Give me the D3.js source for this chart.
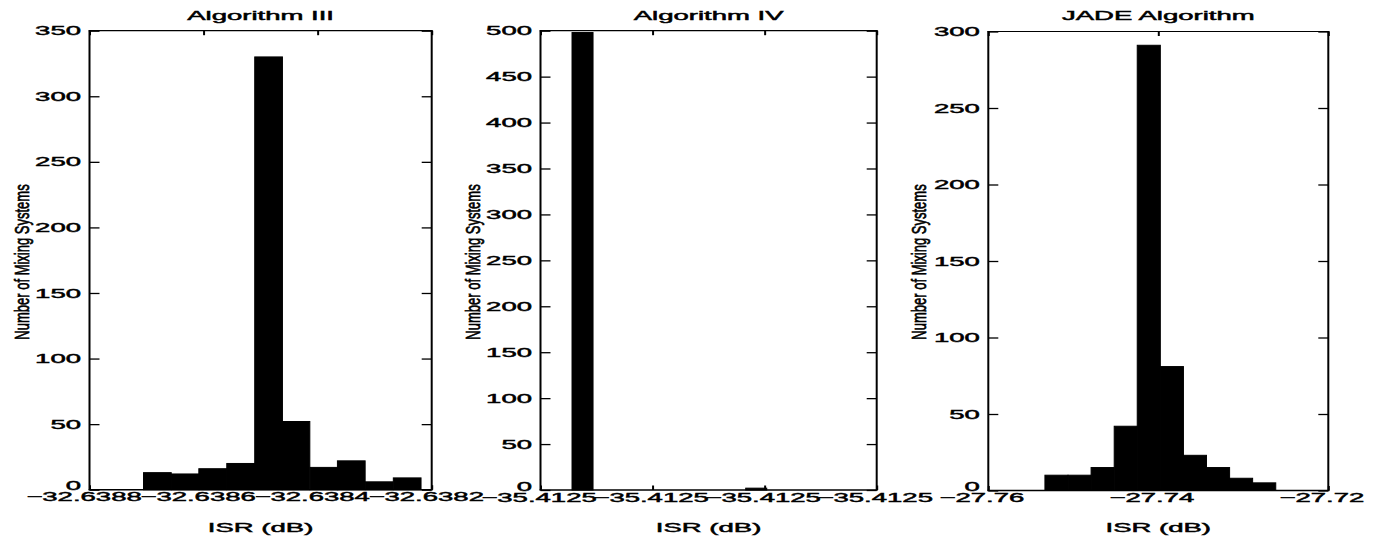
<!DOCTYPE html>
<html>
<head>
<meta charset="utf-8">
<script src="https://cdn.jsdelivr.net/npm/d3@7/dist/d3.min.js"></script>
<style>
  html, body { margin: 0; padding: 0; background: #fff; }
  svg { display: block; }
  text { font-family: "Liberation Sans", Arial, Helvetica, sans-serif; fill: #000; stroke: #000; stroke-width: 0.45px; }
</style>
</head>
<body>
<svg id="chart" width="1380" height="540"></svg>
<script>
// ---------------- Data ----------------
// Algorithm III
const alg3Title = "Algorithm III";
const alg3BinCenters = [-32.638681, -32.638632, -32.638584, -32.638535, -32.638486,
                        -32.638438, -32.638389, -32.638341, -32.638292, -32.638243];
const alg3Counts = [13, 12, 16, 20, 330, 52, 17, 22, 6, 9];
const alg3BinWidth = 0.0000486;
const alg3XTicks = [-32.6388, -32.6386, -32.6384, -32.6382];
const alg3XTickLabels = ["\u221232.6388", "\u221232.6386", "\u221232.6384", "\u221232.6382"];
const alg3YTicks = [0, 50, 100, 150, 200, 250, 300, 350];

// Algorithm IV
const alg4Title = "Algorithm IV";
const alg4BinCenters = [-35.4125325, -35.4125015];
const alg4Counts = [498, 2];
const alg4BinWidth = 0.00000375;
const alg4XTicks = [-35.41254, -35.41252, -35.41250, -35.41248];
const alg4XTickLabels = ["\u221235.4125", "\u221235.4125", "\u221235.4125", "\u221235.4125"];
const alg4YTicks = [0, 50, 100, 150, 200, 250, 300, 350, 400, 450, 500];

// JADE Algorithm
const jadeTitle = "JADE Algorithm";
const jadeBinCenters = [-27.75198, -27.74926, -27.74655, -27.74383, -27.74112,
                        -27.73840, -27.73569, -27.73297, -27.73026, -27.72754];
const jadeCounts = [10, 10, 15, 42, 291, 81, 23, 15, 8, 5];
const jadeBinWidth = 0.002715;
const jadeXTicks = [-27.76, -27.74, -27.72];
const jadeXTickLabels = ["\u221227.76", "\u221227.74", "\u221227.72"];
const jadeYTicks = [0, 50, 100, 150, 200, 250, 300];

const xAxisTitle = "ISR (dB)";
const yAxisTitle = "Number of Mixing Systems";

// ---------------- Layout ----------------
const panels = [
  { title: alg3Title, centers: alg3BinCenters, counts: alg3Counts, binW: alg3BinWidth,
    xTicks: alg3XTicks, xLabels: alg3XTickLabels, yTicks: alg3YTicks,
    left: 89.5, right: 431.7, top: 30.7, bottom: 489.7, yLabelX: 21.7, xLabelDx: -6 },
  { title: alg4Title, centers: alg4BinCenters, counts: alg4Counts, binW: alg4BinWidth,
    xTicks: alg4XTicks, xLabels: alg4XTickLabels, yTicks: alg4YTicks,
    left: 540.5, right: 876.7, top: 30.7, bottom: 490, yLabelX: 472.5, xLabelDx: -2 },
  { title: jadeTitle, centers: jadeBinCenters, counts: jadeCounts, binW: jadeBinWidth,
    xTicks: jadeXTicks, xLabels: jadeXTickLabels, yTicks: jadeYTicks,
    left: 988.3, right: 1328.3, top: 31.5, bottom: 490.5, yLabelX: 919, xLabelDx: -7 }
];

const SX = 2.2;      // horizontal stretch of the scanned lettering
const FS = 12.5;     // font size

const svg = d3.select("#chart");
svg.append("rect").attr("width", 1380).attr("height", 540).attr("fill", "#fff");

panels.forEach(p => {
  const x = d3.scaleLinear()
    .domain([p.xTicks[0], p.xTicks[p.xTicks.length - 1]])
    .range([p.left, p.right]);
  const y = d3.scaleLinear()
    .domain([0, p.yTicks[p.yTicks.length - 1]])
    .range([p.bottom, p.top]);

  const g = svg.append("g");

  // bars
  g.selectAll("rect.bar")
    .data(p.centers.map((c, i) => ({ c, v: p.counts[i] })))
    .join("rect")
    .attr("class", "bar")
    .attr("x", d => x(d.c - p.binW / 2))
    .attr("width", d => x(d.c + p.binW / 2) - x(d.c - p.binW / 2))
    .attr("y", d => y(d.v))
    .attr("height", d => y(0) - y(d.v))
    .attr("fill", "#000")
    .attr("stroke", "#000")
    .attr("stroke-width", 1);

  // axes (ticks pointing inward)
  const yl = g.append("g").attr("transform", `translate(${p.left},0)`)
    .call(d3.axisLeft(y).tickValues(p.yTicks).tickSizeInner(-10).tickSizeOuter(0).tickPadding(0)
      .tickFormat(d3.format("d")));
  const yr = g.append("g").attr("transform", `translate(${p.right},0)`)
    .call(d3.axisRight(y).tickValues(p.yTicks).tickSizeInner(-10).tickSizeOuter(0).tickFormat(""));
  const xt = g.append("g").attr("transform", `translate(0,${p.top})`)
    .call(d3.axisTop(x).tickValues(p.xTicks).tickSizeInner(-4.5).tickSizeOuter(0).tickFormat(""));
  const xb = g.append("g").attr("transform", `translate(0,${p.bottom})`)
    .call(d3.axisBottom(x).tickValues(p.xTicks).tickSizeInner(-4.5).tickSizeOuter(0).tickPadding(0)
      .tickFormat((d, i) => p.xLabels[i]));

  [yl, yr, xt, xb].forEach(a => {
    a.select(".domain").remove();
    a.selectAll(".tick line").attr("stroke", "#000");
    a.attr("font-family", null).attr("font-size", null);
  });
  yl.selectAll(".tick line").attr("stroke-width", 1.3);
  yr.selectAll(".tick line").attr("stroke-width", 1.3);
  xt.selectAll(".tick line").attr("stroke-width", 2);
  xb.selectAll(".tick line").attr("stroke-width", 2);

  yl.selectAll(".tick text")
    .attr("x", 0).attr("dy", null)
    .attr("font-size", FS)
    .attr("text-anchor", "end")
    .attr("dominant-baseline", "central")
    .attr("transform", d => `translate(-8.5,${d === 0 ? -4 : 0}) scale(${SX},1)`);

  xb.selectAll(".tick text")
    .attr("y", 0).attr("dy", null)
    .attr("font-size", FS)
    .attr("text-anchor", "middle")
    .attr("transform", `translate(${p.xLabelDx},11.5) scale(${SX},1)`);

  // box
  g.append("line").attr("x1", p.left).attr("x2", p.left).attr("y1", p.top).attr("y2", p.bottom)
    .attr("stroke", "#000").attr("stroke-width", 2);
  g.append("line").attr("x1", p.right).attr("x2", p.right).attr("y1", p.top).attr("y2", p.bottom)
    .attr("stroke", "#000").attr("stroke-width", 2);
  g.append("line").attr("x1", p.left - 1).attr("x2", p.right + 1).attr("y1", p.top).attr("y2", p.top)
    .attr("stroke", "#000").attr("stroke-width", 1.2);
  g.append("line").attr("x1", p.left - 1).attr("x2", p.right + 1).attr("y1", p.bottom).attr("y2", p.bottom)
    .attr("stroke", "#000").attr("stroke-width", 1.4);

  // title
  g.append("text")
    .attr("font-size", FS)
    .attr("text-anchor", "middle")
    .attr("transform", `translate(${(p.left + p.right) / 2},19.5) scale(${SX},1)`)
    .text(p.title);

  // x axis title
  g.append("text")
    .attr("font-size", FS)
    .attr("text-anchor", "middle")
    .attr("transform", `translate(${(p.left + p.right) / 2},532) scale(${SX},1)`)
    .text(xAxisTitle);

  // y axis title (narrow lettering)
  g.append("text")
    .attr("font-size", 13)
    .attr("text-anchor", "middle")
    .attr("dominant-baseline", "central")
    .attr("transform", `translate(${p.yLabelX},262) scale(1.62,1) rotate(-90)`)
    .text(yAxisTitle);
});
</script>
</body>
</html>
